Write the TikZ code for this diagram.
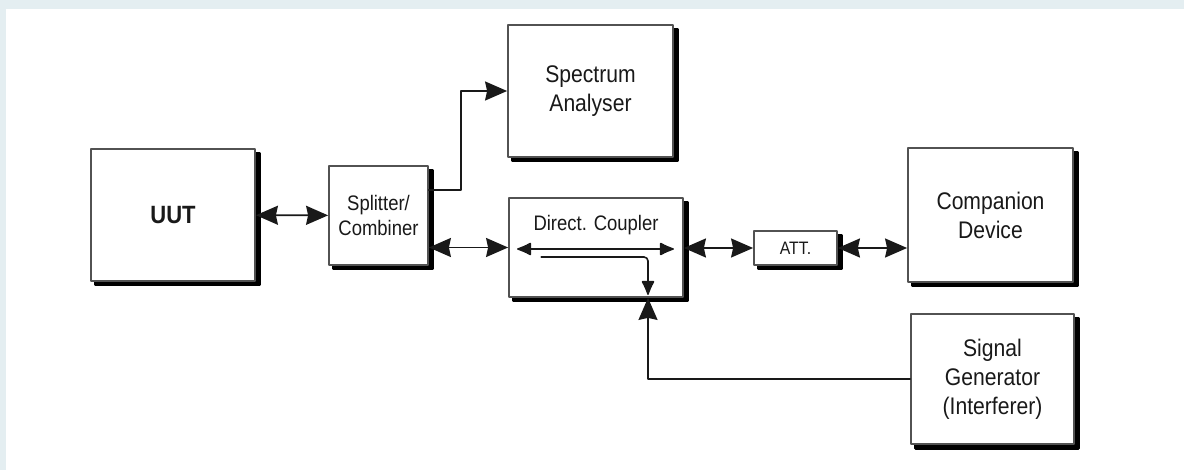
\documentclass[tikz,border=0pt]{standalone}
\usepackage{fontspec}
\setmainfont{Liberation Sans}[FakeStretch=0.88]
\usetikzlibrary{arrows.meta}
\definecolor{pagebg}{RGB}{228,238,241}
\definecolor{inkcolor}{RGB}{25,25,25}
\tikzset{
    blockdiag/.style={
        x=0.5pt, y=-0.5pt,
        line cap=round, line join=round,
        font=\fontsize{12}{14.5}\selectfont,
    },
    boxdims/.style 2 args={minimum width=#1*0.5pt, minimum height=#2*0.5pt},
    unitbox/.style={
        draw=inkcolor!75, line width=0.9pt, fill=white, inner sep=0pt,
        align=center, text=inkcolor,
        preaction={draw=black, fill=black, line width=1.3pt,
            transform canvas={xshift=2.1pt, yshift=-2.1pt}},
    },
    link/.style={draw=inkcolor, line width=0.9pt, {Stealth[length=11pt,width=9.5pt,inset=1pt]}-{Stealth[length=11pt,width=9.5pt,inset=1pt]}},
    feed/.style={draw=inkcolor, line width=0.9pt, -{Stealth[length=11pt,width=9.5pt,inset=1pt]}},
    innerpath/.style={draw=inkcolor, line width=0.8pt, rounded corners=2pt},
    innertip/.style={-{Latex[round,length=8pt,width=7pt]}},
}

\begin{document}
\begin{tikzpicture}
        [blockdiag]
\fill[pagebg] (0,0) rectangle (1184,470);
\fill[white] (6,9) rectangle (1184,470);
\useasboundingbox (0,0) rectangle (1184,470);
\node[unitbox,boxdims={164}{132},font=\fontsize{12.5}{14.5}\selectfont] (uut) at (173,215) {\textbf{UUT}};
\node[unitbox,boxdims={99}{99},font=\fontsize{10.5}{12.5}\selectfont] (split) at (378.5,215.5) {Splitter/\\Combiner};
\node[unitbox,boxdims={165}{132}] (sa) at (590.5,91) {Spectrum\\Analyser};
\node[unitbox,boxdims={174}{99}] (dc) at (596,247.5) {};
\node[text=inkcolor,font=\fontsize{10.5}{12.5}\selectfont] (dclabel) at ([yshift=-14pt]dc.north) {Direct. Coupler};
\node[unitbox,boxdims={83}{34},font=\fontsize{9}{11}\selectfont] (att) at (795.5,248) {ATT.};
\node[unitbox,boxdims={165}{134}] (comp) at (990.5,215) {Companion\\Device};
\node[unitbox,boxdims={163}{130}] (sg) at (992.5,379) {Signal\\Generator\\(Interferer)};
% connections
\draw[link] (uut) -- (split);
\draw[feed] ([yshift=12.75pt]split.east) -- ++(32,0) |- (sa.west);
\draw[link] (split.east |- dc.west) -- (dc.west);
\draw[link] (dc.east |- att.west) -- (att.west);
\draw[link] (att.east) -- (att.east -| comp.west);
\draw[feed] (sg.west) -| ([xshift=26pt]dc.south);
% coupler inside
\draw[innerpath,{Latex[round,length=8pt,width=7pt]}-{Latex[round,length=8pt,width=7pt]}]
    ([xshift=4.5pt,yshift=-0.75pt]dc.west) -- ([xshift=-5pt,yshift=-0.75pt]dc.east);
\draw[innerpath,innertip] ([xshift=16.5pt,yshift=-4.75pt]dc.west) -| ([xshift=26pt,yshift=1.5pt]dc.south);
\end{tikzpicture}
\end{document}
